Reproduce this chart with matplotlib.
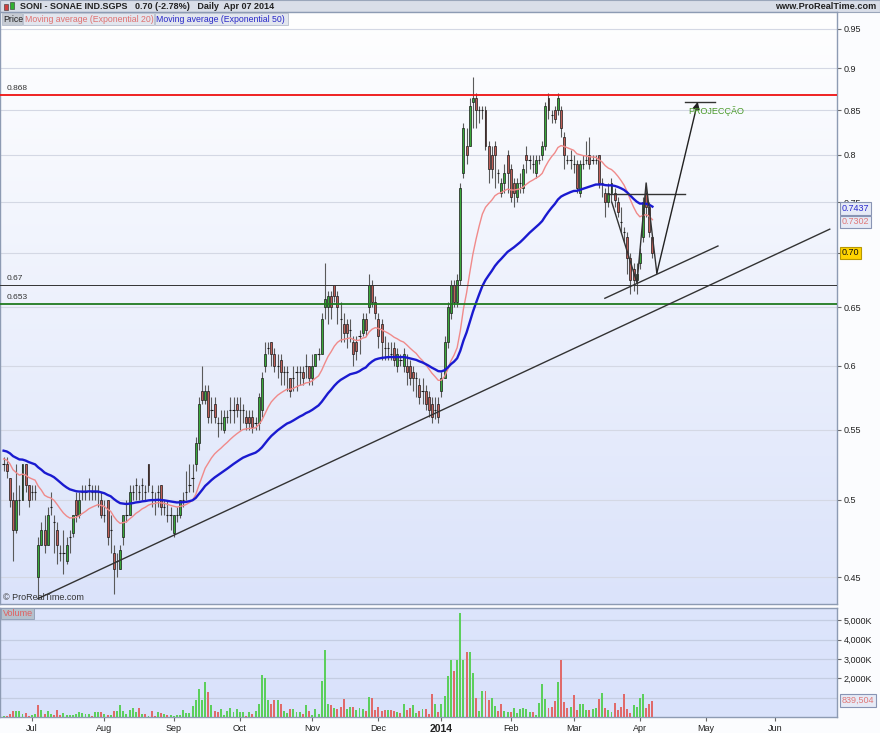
import numpy as np
import pandas as pd
import matplotlib
matplotlib.use("Agg")
import matplotlib.pyplot as plt
from matplotlib.patches import Rectangle
from matplotlib.colors import LinearSegmentedColormap
from matplotlib.ticker import FixedLocator, FixedFormatter, NullLocator
from matplotlib.transforms import blended_transform_factory

plt.rcParams['font.family'] = ['Liberation Sans', 'DejaVu Sans']

# trading calendar (Lisbon), data runs from 2013-06-18 to 2014-04-07
HOLIDAYS = ["2013-12-25", "2013-12-26", "2014-01-01", "2014-04-18"]
DAYS = pd.bdate_range("2013-06-18", "2014-06-30", freq="C", holidays=HOLIDAYS)

OPEN = [.525, .525, .515, .500, .480, .500, .500, .525, .510, .505,
        .505, .450, .470, .480, .470, .495, .485, .480, .465, .465,
        .460, .475, .478, .500, .490, .505, .505, .510, .505, .505,
        .505, .500, .490, .500, .480, .465, .460, .455, .475, .490,
        .490, .505, .510, .505, .510, .505, .525, .505, .500, .505,
        .510, .495, .490, .490, .478, .490, .490, .500, .505, .510,
        .515, .525, .540, .580, .573, .580, .565, .570, .555, .555,
        .550, .560, .565, .565, .570, .565, .565, .560, .560, .560,
        .555, .555, .565, .600, .615, .620, .610, .600, .605, .595,
        .595, .590, .590, .595, .595, .595, .600, .600, .590, .600,
        .610, .610, .650, .650, .660, .670, .660, .640, .635, .635,
        .630, .620, .620, .625, .628, .640, .650, .670, .655, .640,
        .635, .615, .615, .610, .615, .600, .605, .600, .600, .600,
        .595, .590, .585, .580, .580, .575, .570, .565, .570, .580,
        .590, .620, .645, .670, .655, .675, .780, .810, .810, .860,
        .865, .850, .850, .850, .810, .800, .810, .780, .760, .770,
        .800, .785, .770, .755, .770, .765, .800, .795, .790, .780,
        .795, .800, .810, .865, .845, .850, .850, .850, .820, .795,
        .795, .790, .790, .760, .790, .795, .800, .795, .795, .800,
        .770, .760, .750, .760, .760, .750, .730, .720, .715, .695,
        .685, .675, .690, .715, .760, .745, .715]
HIGH = [.530, .530, .515, .505, .525, .510, .525, .525, .510, .510,
        .510, .475, .485, .490, .495, .505, .490, .485, .470, .480,
        .475, .480, .490, .505, .505, .510, .510, .515, .510, .510,
        .510, .505, .500, .500, .490, .470, .465, .470, .490, .500,
        .510, .510, .515, .510, .515, .510, .525, .510, .505, .510,
        .510, .500, .500, .495, .490, .495, .500, .505, .520, .525,
        .525, .545, .575, .600, .585, .585, .575, .575, .560, .565,
        .565, .565, .575, .575, .575, .575, .570, .565, .565, .565,
        .560, .578, .595, .620, .620, .620, .615, .610, .610, .600,
        .600, .590, .600, .600, .600, .600, .610, .600, .610, .610,
        .615, .645, .690, .665, .665, .670, .665, .655, .645, .640,
        .640, .625, .625, .630, .645, .645, .680, .675, .660, .645,
        .640, .625, .620, .620, .620, .615, .610, .615, .610, .605,
        .600, .595, .590, .590, .585, .580, .575, .575, .575, .595,
        .625, .655, .675, .675, .680, .770, .835, .830, .865, .890,
        .870, .855, .855, .855, .815, .810, .815, .785, .775, .790,
        .805, .790, .775, .775, .780, .790, .810, .800, .800, .800,
        .800, .815, .860, .870, .850, .855, .870, .855, .825, .800,
        .805, .800, .795, .795, .800, .815, .820, .800, .800, .800,
        .775, .765, .770, .775, .765, .755, .745, .725, .720, .700,
        .690, .690, .705, .755, .770, .750, .715]
LOW = [.520, .515, .495, .460, .478, .490, .500, .505, .495, .500,
       .500, .437, .470, .465, .470, .490, .465, .458, .460, .452,
       .458, .465, .475, .485, .488, .500, .500, .500, .500, .500,
       .495, .488, .485, .470, .465, .440, .450, .455, .470, .485,
       .490, .500, .500, .500, .500, .500, .505, .495, .490, .495,
       .490, .490, .485, .480, .475, .485, .488, .495, .500, .505,
       .505, .520, .535, .570, .570, .555, .555, .555, .545, .550,
       .548, .555, .555, .555, .560, .550, .555, .550, .550, .548,
       .550, .550, .560, .595, .610, .600, .595, .590, .585, .585,
       .580, .575, .580, .580, .585, .585, .590, .585, .585, .600,
       .605, .610, .640, .635, .640, .655, .635, .620, .620, .615,
       .620, .600, .605, .610, .625, .625, .645, .650, .640, .615,
       .605, .605, .605, .605, .600, .595, .600, .595, .585, .585,
       .580, .575, .570, .570, .565, .560, .555, .558, .555, .575,
       .590, .615, .640, .650, .650, .670, .775, .790, .810, .830,
       .830, .835, .840, .805, .770, .775, .765, .770, .755, .760,
       .760, .750, .745, .750, .760, .760, .780, .785, .780, .775,
       .790, .795, .805, .840, .835, .835, .845, .820, .785, .790,
       .785, .780, .760, .755, .785, .790, .785, .790, .790, .765,
       .755, .735, .745, .750, .745, .735, .720, .710, .680, .662,
       .665, .662, .685, .710, .735, .715, .695]
CLOSE = [.525, .520, .500, .480, .500, .500, .525, .510, .500, .505,
         .505, .470, .480, .470, .490, .495, .485, .470, .465, .465,
         .470, .475, .490, .490, .500, .505, .505, .510, .505, .505,
         .505, .490, .490, .475, .480, .455, .460, .467, .490, .490,
         .505, .505, .510, .505, .510, .505, .510, .505, .500, .505,
         .495, .495, .490, .490, .490, .490, .500, .500, .505, .510,
         .515, .540, .570, .573, .580, .560, .565, .560, .555, .555,
         .560, .560, .565, .565, .565, .565, .565, .555, .555, .552,
         .555, .575, .590, .610, .615, .610, .600, .600, .595, .595,
         .595, .580, .590, .595, .595, .590, .600, .590, .600, .610,
         .610, .640, .657, .660, .650, .660, .650, .640, .628, .628,
         .630, .610, .612, .625, .640, .630, .670, .655, .645, .625,
         .620, .615, .615, .610, .605, .610, .605, .610, .595, .590,
         .590, .590, .575, .580, .570, .565, .560, .565, .560, .590,
         .620, .650, .670, .655, .675, .765, .830, .800, .855, .865,
         .850, .850, .850, .810, .785, .785, .800, .780, .770, .780,
         .780, .755, .760, .770, .770, .785, .795, .795, .790, .795,
         .795, .810, .855, .850, .845, .840, .865, .830, .800, .795,
         .795, .790, .765, .790, .790, .795, .790, .795, .795, .770,
         .770, .750, .760, .770, .752, .740, .730, .720, .695, .675,
         .675, .680, .700, .750, .745, .720, .700]
# volume in thousands of shares
VOLUME = [69, 69, 155, 328, 328, 328, 172, 207, 69, 86,
          172, 638, 379, 172, 328, 172, 121, 379, 86, 207,
          86, 121, 121, 155, 276, 224, 155, 155, 69, 276,
          276, 276, 172, 121, 103, 328, 328, 638, 328, 172,
          379, 448, 241, 448, 172, 172, 69, 328, 69, 241,
          207, 172, 86, 86, 69, 86, 121, 379, 207, 207,
          586, 897, 1466, 897, 1810, 1293, 638, 328, 241,
          431, 86, 293, 483, 241, 431, 241, 241, 34, 241,
          172, 293, 690, 2190, 2017, 862, 690, 897, 897, 690,
          293, 207, 397, 397, 241, 241, 172, 638, 293, 86,
          397, 138, 1845, 3448, 655, 638, 466, 431, 517, 914,
          431, 500, 534, 345, 466, 431, 293, 1052, 966, 345,
          534, 293, 345, 345, 345, 293, 259, 190, 672, 345,
          466, 638, 207, 293, 414, 414, 155, 1207, 672, 259,
          672, 1086, 2138, 2931, 2362, 2966, 5379, 2966, 3362, 3362,
          2276, 966, 293, 1328, 1362, 897, 1000, 586, 293, 672,
          293, 241, 241, 466, 190, 414, 483, 414, 241, 241,
          121, 707, 1690, 914, 466, 534, 810, 1810, 2966, 759,
          466, 500, 1121, 379, 672, 672, 345, 379, 414, 466,
          914, 1259, 483, 345, 241, 741, 379, 500, 1207, 414,
          207, 621, 500, 1000, 1207, 450, 650, 839.504]

EMA20_SEED = 0.529
EMA50_SEED = 0.535

PRICE_TICKS = [0.45, 0.5, 0.55, 0.6, 0.65, 0.7, 0.75, 0.8, 0.85, 0.9, 0.95]
PRICE_TICK_LABELS = ["0.45", "0.5", "0.55", "0.6", "0.65", "0.7", "0.75", "0.8", "0.85", "0.9", "0.95"]
VOL_TICKS = [2000, 3000, 4000, 5000]
VOL_TICK_LABELS = ["2,000K", "3,000K", "4,000K", "5,000K"]

# drawn levels and trend lines (bar index, price)
LEVELS = [0.868, 0.67, 0.653]
LEVEL_LABELS = ["0.868", "0.67", "0.653"]
TREND_X, TREND_P = [10.9, 262.3], [0.437, 0.723]
CHANNEL_X, CHANNEL_P = [190.9, 226.8], [0.658, 0.7066]
NECK_X, NECK_P = [191.9, 216.3], [0.759, 0.759]
PATH_X, PATH_P = [193.1, 201.1, 204.0, 207.4, 220.4], [0.750, 0.672, 0.770, 0.681, 0.860]
TARGET_X, TARGET_P = [216.3, 225.8], [0.860, 0.860]
LAST_LABELS = ["0.7437", "0.7302", "0.70"]
LAST_VOLUME_LABEL = "839,504"


def ema(values, span, seed):
    alpha = 2.0 / (span + 1)
    level = seed
    out = []
    for v in values:
        level = level + alpha * (v - level)
        out.append(level)
    return np.array(out)


W, H = 880, 733


def fx(px):
    return px / W


def fy(py):
    return 1 - py / H


o = np.array(OPEN)
h = np.array(HIGH)
l = np.array(LOW)
c = np.array(CLOSE)
vol = np.array(VOLUME)
idx = np.arange(len(c))

fig = plt.figure(figsize=(8.8, 7.33), dpi=100)
fig.patch.set_facecolor("#fbfcfe")

price_rect = [0, fy(604), fx(837), fy(12) - fy(604)]
vol_rect = [0, fy(717), fx(837), fy(607.5) - fy(717)]

# gradient backgrounds
grad = np.linspace(0, 1, 256).reshape(-1, 1)
bg = fig.add_axes(price_rect, zorder=0)
bg.imshow(grad, aspect="auto", cmap=LinearSegmentedColormap.from_list("p", ["#ffffff", "#dbe3fa"]))
bg.axis("off")
bgv = fig.add_axes(vol_rect, zorder=0)
bgv.imshow(grad, aspect="auto", cmap=LinearSegmentedColormap.from_list("v", ["#dde5fc", "#d9e2fb"]))
bgv.axis("off")

ax = fig.add_axes(price_rect, zorder=1)
axv = fig.add_axes(vol_rect, zorder=1)
for a in (ax, axv):
    a.set_facecolor("none")
    for s in a.spines.values():
        s.set_color("#8d9bb3")
        s.set_linewidth(1)

# price panel
ax.set_yscale("log")
for t in PRICE_TICKS:
    ax.axhline(t, color="#d4d8e4", lw=0.8, zorder=1)

ax.vlines(idx, l, h, color="#5a5a5a", lw=0.8, zorder=3)
up = c > o
down = c < o
flat = c == o
ax.bar(idx[up], (c - o)[up], bottom=o[up], width=0.62, color="#3aa83a",
       edgecolor="#1a1a1a", lw=0.5, zorder=4)
ax.bar(idx[down], (o - c)[down], bottom=c[down], width=0.62, color="#bf5f58",
       edgecolor="#1a1a1a", lw=0.5, zorder=4)
ax.hlines(c[flat], idx[flat] - 0.35, idx[flat] + 0.35, color="#1a1a1a", lw=0.8, zorder=4)

ax.plot(idx, ema(c, 20, EMA20_SEED), color="#f08a8a", lw=1.0, zorder=5)
ax.plot(idx, ema(c, 50, EMA50_SEED), color="#1a1ad0", lw=1.7, zorder=5)

level_colors = ["#ee1111", "#333333", "#1f7a1f"]
level_widths = [1.3, 0.7, 1.3]
for lev, lab, col, lw in zip(LEVELS, LEVEL_LABELS, level_colors, level_widths):
    ax.axhline(lev, color=col, lw=lw, zorder=6)
    ax.text(1, lev * 1.004, lab, fontsize=6, color="#333333", va="bottom", ha="left", zorder=7)

ax.plot(TREND_X, TREND_P, color="#333333", lw=1.0, zorder=6)
ax.plot(CHANNEL_X, CHANNEL_P, color="#333333", lw=1.0, zorder=6)
ax.plot(NECK_X, NECK_P, color="#333333", lw=1.0, zorder=6)
ax.plot(TARGET_X, TARGET_P, color="#333333", lw=1.0, zorder=6)
ax.plot(PATH_X[:-1], PATH_P[:-1], color="#333333", lw=1.0, zorder=6)
ax.annotate("", xy=(PATH_X[-1], PATH_P[-1]), xytext=(PATH_X[-2], PATH_P[-2]),
            arrowprops=dict(arrowstyle="-|>", color="#222222", lw=1.0, mutation_scale=10,
                            shrinkA=0, shrinkB=0), zorder=6)
ax.text(226.2, 0.849, "PROJECÇÃO", color="#4a9a2a", fontsize=6.5, ha="center", va="center", zorder=7)
ax.text(0.003, 0.004, "© ProRealTime.com", transform=ax.transAxes, fontsize=6.5,
        color="#333333", ha="left", va="bottom", zorder=7)

ax.set_xlim(-1.14, 264.6)
ax.set_ylim(0.4338, 0.972)
ax.yaxis.tick_right()
ax.yaxis.set_major_locator(FixedLocator(PRICE_TICKS))
ax.yaxis.set_major_formatter(FixedFormatter(PRICE_TICK_LABELS))
ax.yaxis.set_minor_locator(NullLocator())
ax.tick_params(axis="y", which="major", length=3, pad=2, labelsize=6.5, color="#666666",
               labelcolor="#222222")
ax.tick_params(axis="x", bottom=False, labelbottom=False)

blend = blended_transform_factory(ax.transAxes, ax.transData)
box_styles = [("#2a2ad0", "#e6eaf6", "#8894b4"), ("#e07878", "#e6eaf6", "#8894b4"),
              ("#111111", "#ffd400", "#b89800")]
for lab, (tc, fc, ec) in zip(LAST_LABELS, box_styles):
    ax.text(1.006, float(lab), lab, transform=blend, fontsize=6.5, color=tc, va="center",
            ha="left", zorder=8, bbox=dict(boxstyle="square,pad=0.2", fc=fc, ec=ec, lw=0.8))

# volume panel
for t in [1000, 2000, 3000, 4000, 5000]:
    axv.axhline(t, color="#c4cde2", lw=0.9, zorder=1)
vol_up = np.r_[True, c[1:] >= c[:-1]]
axv.bar(idx[vol_up], vol[vol_up], width=0.62, color="#5ccf5c", zorder=3)
axv.bar(idx[~vol_up], vol[~vol_up], width=0.62, color="#e06a6a", zorder=3)
axv.set_xlim(-1.14, 264.6)
axv.set_ylim(0, 5670)
axv.yaxis.tick_right()
axv.set_yticks(VOL_TICKS)
axv.set_yticklabels(VOL_TICK_LABELS)
axv.tick_params(axis="y", length=3, pad=2, labelsize=6.5, color="#666666", labelcolor="#222222")
vblend = blended_transform_factory(axv.transAxes, axv.transData)
axv.text(1.006, vol[-1], LAST_VOLUME_LABEL, transform=vblend, fontsize=6.5, color="#e07878",
         va="center", ha="left", zorder=8,
         bbox=dict(boxstyle="square,pad=0.2", fc="#e6eaf6", ec="#8894b4", lw=0.8))
axv.text(0.003, 0.985, "Volume", transform=axv.transAxes, fontsize=6.5, color="#e06060",
         ha="left", va="top", zorder=8,
         bbox=dict(boxstyle="square,pad=0.15", fc="#b4c0cc", ec="#8d9bb3", lw=0.6))

# month ticks
month_pos = []
month_lab = []
seen = set()
for i, d in enumerate(DAYS):
    if i > 264:
        break
    key = (d.year, d.month)
    if key not in seen and i > 0:
        month_pos.append(i)
        month_lab.append("2014" if d.month == 1 else d.strftime("%b"))
    seen.add(key)
axv.set_xticks(month_pos)
axv.set_xticklabels(month_lab)
axv.tick_params(axis="x", length=3, pad=2, labelsize=6.5, color="#666666", labelcolor="#222222")
for tl in axv.get_xticklabels():
    if tl.get_text() == "2014":
        tl.set_fontweight("bold")
        tl.set_fontsize(7.5)

# header strip
fig.add_artist(Rectangle((0, fy(12)), 1, 1 - fy(12), transform=fig.transFigure,
                         fc="#d9dee8", ec="#9aa6ba", lw=0.8, zorder=0))
fig.add_artist(Rectangle((fx(4), fy(10)), fx(4), fy(4) - fy(10), transform=fig.transFigure,
                         fc="#d04040", ec="#333333", lw=0.4))
fig.add_artist(Rectangle((fx(10), fy(9)), fx(4), fy(2) - fy(9), transform=fig.transFigure,
                         fc="#30b030", ec="#333333", lw=0.4))
fig.text(fx(20), fy(6.5), "SONI - SONAE IND.SGPS   0.70 (-2.78%)   Daily  Apr 07 2014",
         fontsize=6.5, fontweight="bold", color="#222222", va="center", ha="left")
fig.text(fx(876), fy(6.5), "www.ProRealTime.com", fontsize=6.6, fontweight="bold",
         color="#222222", va="center", ha="right")

# legend row
legend_items = [("Price", "#222222", "#c6cbd3"),
                ("Moving average (Exponential 20)", "#e07070", "#e2e6ee"),
                ("Moving average (Exponential 50)", "#2828c8", "#e2e6ee")]
x0 = 2
widths = [20, 131, 133]
for (txt, col, fc), wd in zip(legend_items, widths):
    fig.add_artist(Rectangle((fx(x0), fy(24.5)), fx(wd), fy(13) - fy(24.5),
                             transform=fig.transFigure, fc=fc, ec="#aab3c3", lw=0.5, zorder=5))
    fig.text(fx(x0 + 1.5), fy(19), txt, fontsize=6.3, color=col, va="center", ha="left", zorder=6)
    x0 += wd + 1

fig.savefig("out.png", dpi=100, facecolor=fig.get_facecolor())
